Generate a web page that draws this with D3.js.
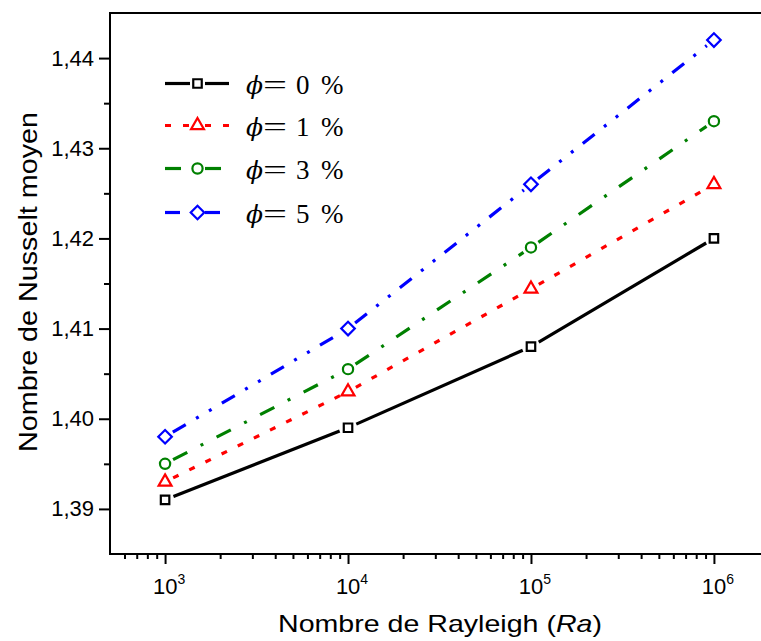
<!DOCTYPE html>
<html>
<head>
<meta charset="utf-8">
<script src="https://cdn.jsdelivr.net/npm/d3@7"></script>
<style>
  html, body { margin: 0; padding: 0; background: #fff; }
  svg { display: block; }
</style>
</head>
<body>
<svg id="chart" width="761" height="641"></svg>
<script>
// Rayleigh numbers on the x axis
const rayleigh = [1e3, 1e4, 1e5, 1e6];

// Mean Nusselt number for each nanoparticle volume fraction
const nu0 = [1.391, 1.399, 1.408, 1.420];
const nu1 = [1.393, 1.403, 1.4144, 1.426];
const nu3 = [1.395, 1.4055, 1.419, 1.433];
const nu5 = [1.398, 1.410, 1.426, 1.442];

const seriesNames = ["0", "1", "3", "5"];

// Axis ticks
const yTicks = [1.39, 1.40, 1.41, 1.42, 1.43, 1.44];
const yTickLabels = ["1,39", "1,40", "1,41", "1,42", "1,43", "1,44"];
const yMinorTicks = [1.395, 1.405, 1.415, 1.425, 1.435];
const xTicks = [1e3, 1e4, 1e5, 1e6];
const xTickExponents = ["3", "4", "5", "6"];

const xTitle = "Nombre de Rayleigh (";
const xTitleItalic = "Ra";
const yTitle = "Nombre de Nusselt moyen";

const styles = [
  { color: "#000000", dash: null,                symbol: "square" },
  { color: "#ff0000", dash: "6,12",              symbol: "triangle" },
  { color: "#008000", dash: "16,15,3,15",        symbol: "circle" },
  { color: "#0000ff", dash: "15,12,3,12,3,12",   symbol: "diamond" }
];

const series = [nu0, nu1, nu3, nu5].map((vals, i) => ({
  name: seriesNames[i],
  points: rayleigh.map((r, j) => ({ x: r, y: vals[j] })),
  style: styles[i]
}));

const svg = d3.select("#chart");
const plot = { left: 110, top: 13, right: 769, bottom: 554 };

const x = d3.scaleLog().domain([500, 2e6]).range([plot.left, plot.right]);
const y = d3.scaleLinear().domain([1.385, 1.445]).range([plot.bottom, plot.top]);

const font = "'Liberation Sans', Arial, sans-serif";
const serif = "'Liberation Serif', 'Times New Roman', serif";

// Frame: top line, left and bottom axes (right side falls outside the canvas)
svg.append("rect")
  .attr("x", plot.left).attr("y", plot.top)
  .attr("width", plot.right - plot.left).attr("height", plot.bottom - plot.top)
  .attr("fill", "none").attr("stroke", "#000").attr("stroke-width", 2);

// Y axis
const yAxis = d3.axisLeft(y)
  .tickValues(yTicks)
  .tickSize(11)
  .tickPadding(5)
  .tickFormat((d, i) => yTickLabels[i]);
const gy = svg.append("g").attr("transform", `translate(${plot.left},0)`).call(yAxis);
gy.attr("font-family", font);
gy.select(".domain").remove();
gy.selectAll(".tick line").attr("stroke-width", 2);
gy.selectAll(".tick text").attr("font-family", font).attr("font-size", 22).attr("fill", "#000");

const yMinor = d3.axisLeft(y).tickValues(yMinorTicks).tickSize(6).tickFormat("");
const gym = svg.append("g").attr("transform", `translate(${plot.left},0)`).call(yMinor);
gym.select(".domain").remove();
gym.selectAll(".tick line").attr("stroke-width", 2);

// X axis (log)
const xMinorTicks = [];
for (let e = 2; e <= 6; e++) {
  for (let m = 2; m <= 9; m++) {
    const v = m * Math.pow(10, e);
    if (v > 500 && v < 2e6) xMinorTicks.push(v);
  }
}
const xAxis = d3.axisBottom(x).tickValues(xTicks).tickSize(10).tickFormat("");
const gx = svg.append("g").attr("transform", `translate(0,${plot.bottom})`).call(xAxis);
gx.select(".domain").remove();
gx.selectAll(".tick line").attr("stroke-width", 2);

const xMinor = d3.axisBottom(x).tickValues(xMinorTicks).tickSize(5).tickFormat("");
const gxm = svg.append("g").attr("transform", `translate(0,${plot.bottom})`).call(xMinor);
gxm.select(".domain").remove();
gxm.selectAll(".tick line").attr("stroke-width", 2);

// Power-of-ten tick labels
const xl = svg.append("g").selectAll("text").data(xTicks).join("text")
  .attr("x", d => x(d) + 4)
  .attr("y", plot.bottom + 40)
  .attr("text-anchor", "middle")
  .attr("font-family", font).attr("font-size", 22).attr("fill", "#000");
xl.append("tspan").text("10");
xl.append("tspan").attr("dy", -10).attr("font-size", 14).text((d, i) => xTickExponents[i]);

// Axis titles
const xt = svg.append("text")
  .attr("x", 440).attr("y", 631.5)
  .attr("text-anchor", "middle")
  .attr("font-family", font).attr("font-size", 24).attr("fill", "#000")
  .attr("textLength", 324).attr("lengthAdjust", "spacingAndGlyphs");
xt.append("tspan").text(xTitle);
xt.append("tspan").attr("font-style", "italic").text(xTitleItalic);
xt.append("tspan").text(")");

svg.append("text")
  .attr("transform", "translate(36.5,282) rotate(-90)")
  .attr("text-anchor", "middle")
  .attr("font-family", font).attr("font-size", 25).attr("fill", "#000")
  .attr("textLength", 340).attr("lengthAdjust", "spacingAndGlyphs")
  .text(yTitle);

// Marker shapes
function symbolPath(kind) {
  if (kind === "square") return d3.symbol(d3.symbolSquare, 72)();
  if (kind === "triangle") return d3.symbol(d3.symbolTriangle, 72)();
  if (kind === "circle") return d3.symbol(d3.symbolCircle, 82)();
  return d3.symbol(d3.symbolSquare, 92)();
}
function symbolTransform(kind, px, py) {
  return kind === "diamond" ? `translate(${px},${py}) rotate(45)` : `translate(${px},${py})`;
}

// Lines drawn segment by segment, leaving a small gap around each marker
const gap = 9;
const line = d3.line();
series.forEach(s => {
  const g = svg.append("g");
  const pts = s.points.map(p => [x(p.x), y(p.y)]);
  for (let i = 0; i < pts.length - 1; i++) {
    const [x0, y0] = pts[i], [x1, y1] = pts[i + 1];
    const len = Math.hypot(x1 - x0, y1 - y0);
    const ux = (x1 - x0) / len, uy = (y1 - y0) / len;
    g.append("path")
      .attr("d", line([[x0 + ux * gap, y0 + uy * gap], [x1 - ux * gap, y1 - uy * gap]]))
      .attr("fill", "none")
      .attr("stroke", s.style.color)
      .attr("stroke-width", 3.2)
      .attr("stroke-dasharray", s.style.dash);
  }
  g.selectAll("path.marker").data(pts).join("path")
    .attr("class", "marker")
    .attr("d", symbolPath(s.style.symbol))
    .attr("transform", d => symbolTransform(s.style.symbol, d[0], d[1]))
    .attr("fill", "none")
    .attr("stroke", s.style.color)
    .attr("stroke-width", 2.2);
});

// Legend
const legendRows = [83.5, 125.5, 168.5, 212.5];
const lg = svg.append("g");
series.forEach((s, i) => {
  const cy = legendRows[i];
  [[165, 190], [205, 229]].forEach(([a, b]) => {
    lg.append("path")
      .attr("d", line([[a, cy], [b, cy]]))
      .attr("fill", "none")
      .attr("stroke", s.style.color)
      .attr("stroke-width", 3.2)
      .attr("stroke-dasharray", s.style.dash);
  });
  lg.append("path")
    .attr("d", symbolPath(s.style.symbol))
    .attr("transform", symbolTransform(s.style.symbol, 197.5, cy))
    .attr("fill", "none")
    .attr("stroke", s.style.color)
    .attr("stroke-width", 2.2);

  const base = cy + 10;
  lg.append("text")
    .attr("x", 246).attr("y", base)
    .attr("font-family", "'DejaVu Serif', serif").attr("font-style", "italic")
    .attr("font-size", 25).attr("fill", "#000")
    .text("\u03D5");
  lg.append("text")
    .attr("x", 263).attr("y", base)
    .attr("font-family", serif).attr("font-size", 27).attr("fill", "#000")
    .attr("textLength", 24).attr("lengthAdjust", "spacingAndGlyphs")
    .text("=");
  const t = lg.append("text")
    .attr("y", base)
    .attr("font-family", serif).attr("font-size", 27).attr("fill", "#000");
  t.append("tspan").attr("x", 296).text(s.name);
  t.append("tspan").attr("x", 321).text("%");
});
</script>
</body>
</html>
